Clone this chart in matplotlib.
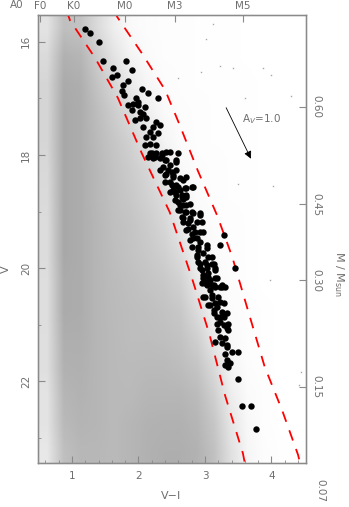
import numpy as np
import matplotlib
matplotlib.use("Agg")
import matplotlib.pyplot as plt
from matplotlib.colors import LinearSegmentedColormap
from matplotlib.transforms import blended_transform_factory

# cluster candidates (V-I, V)
vi_stars = [1.20, 1.27, 1.41, 1.47, 1.82, 1.62, 1.91, 1.67, 1.60, 1.85, 1.77, 1.75, 1.78, 2.06, 2.14, 2.30,
            1.97, 1.92, 1.85, 2.00, 2.10, 2.02, 1.90,
            2.00, 2.07, 1.95, 2.02, 2.12, 2.27, 2.32, 2.22, 2.07, 2.17, 2.12, 2.22, 2.30, 2.10, 2.17, 2.27,
            2.20, 2.15, 2.27, 2.35, 2.42, 2.47, 2.60, 2.22, 2.32, 2.40, 2.57, 2.37, 2.45, 2.50, 2.57, 2.40,
            2.52, 2.67, 2.47, 2.57, 2.62, 2.72, 2.52, 2.65, 2.80, 2.72,
            2.47, 2.57, 2.55, 2.67, 2.62, 2.72, 2.60, 2.70, 2.80, 2.92, 2.65, 2.77, 2.67, 2.75, 2.95, 2.82,
            2.72, 2.80, 2.92, 2.77, 2.88, 2.80, 2.90, 3.03, 2.97, 3.10, 2.88, 2.90, 3.00, 3.10, 2.92, 3.03,
            3.15, 2.97, 3.05, 3.15, 3.00, 3.10, 3.23, 3.28, 3.23, 3.45,
            2.95, 3.03, 3.13, 3.25, 2.97, 3.10, 3.08, 3.23, 3.05, 3.15, 3.13, 3.25, 3.18, 3.28, 3.23, 3.35,
            3.20, 3.33, 3.23, 3.30, 3.25, 3.33, 3.40, 3.50, 3.30, 3.33, 3.38, 3.30, 3.50,
            3.35, 3.56, 3.69, 3.76,
            2.17, 2.25, 2.35, 2.42, 2.57, 2.47, 2.32, 2.42, 2.52, 2.62, 2.72, 2.40, 2.50, 2.60, 2.70, 2.82,
            2.55, 2.65, 2.72, 2.60, 2.67, 2.77, 2.62, 2.72, 2.82, 2.92, 2.67, 2.77, 2.88, 2.75, 2.85, 2.97,
            3.03, 2.82, 2.92, 2.90, 3.05, 2.88, 2.92, 3.03, 3.13, 2.95, 3.05, 3.15, 2.97, 3.08, 3.18, 3.03,
            3.15, 3.25, 3.00, 3.10, 3.20, 3.30, 3.08, 3.18, 3.28, 3.13, 3.23, 3.33, 3.18, 3.28, 3.35, 3.15,
            3.33]
v_stars = [15.78, 15.85, 16.00, 16.34, 16.34, 16.47, 16.49, 16.58, 16.62, 16.69, 16.77, 16.87, 16.94, 16.84,
           16.91, 17.00, 16.99, 17.09, 17.12, 17.12, 17.15, 17.24, 17.21,
           17.06, 17.27, 17.38, 17.35, 17.35, 17.41, 17.47, 17.50, 17.50, 17.59, 17.68, 17.68, 17.62, 17.83,
           17.80, 17.83, 17.97, 18.03, 17.97, 17.97, 17.94, 17.94, 17.96, 18.06, 18.06, 18.09, 18.12, 18.21,
           18.27, 18.30, 18.27, 18.36, 18.39, 18.44, 18.47, 18.53, 18.62, 18.59, 18.62, 18.71, 18.57, 18.74,
           18.65, 18.71, 18.80, 18.77, 18.89, 18.89, 18.97, 19.00, 19.00, 19.06, 19.09, 19.12, 19.18, 19.21,
           19.18, 19.27, 19.33, 19.39, 19.36, 19.50, 19.47, 19.62, 19.62, 19.65, 19.74, 19.80, 19.77, 19.89,
           19.89, 19.92, 20.00, 20.00, 20.03, 20.12, 20.15, 20.18, 20.27, 20.30, 20.33, 19.42, 19.59, 20.00,
           20.27, 20.24, 20.30, 20.33, 20.51, 20.48, 20.39, 20.59, 20.65, 20.62, 20.74, 20.77, 20.86, 20.86,
           20.95, 20.98, 21.09, 21.06, 21.21, 21.24, 21.33, 21.36, 21.48, 21.48, 21.51, 21.62, 21.68, 21.71,
           21.95,
           21.74, 22.44, 22.44, 22.84,
           17.97, 18.03, 18.00, 18.09, 18.09, 18.18, 18.27, 18.33, 18.36, 18.41, 18.39, 18.47, 18.53, 18.56,
           18.59, 18.56, 18.65, 18.74, 18.71, 18.83, 18.89, 18.86, 18.97, 19.00, 19.03, 19.03, 19.12, 19.15,
           19.18, 19.30, 19.36, 19.36, 19.59, 19.47, 19.53, 19.68, 19.80, 19.80, 19.92, 19.95, 19.92, 20.03,
           20.09, 20.00, 20.18, 20.21, 20.18, 20.30, 20.33, 20.30, 20.51, 20.53, 20.51, 20.33, 20.65, 20.68,
           20.62, 20.80, 20.86, 20.80, 20.98, 21.01, 21.09, 21.30, 21.39]

# isochrone-like dashed lines
vi_line1 = [0.92, 0.97, 1.35, 1.69, 2.05, 2.47, 2.80, 3.07, 3.30, 3.57, 3.60]
v_line1 = [15.45, 15.62, 16.29, 16.99, 17.97, 19.01, 20.16, 21.18, 22.24, 23.27, 23.45]
vi_line2 = [1.64, 1.68, 2.05, 2.40, 2.62, 2.89, 3.18, 3.41, 3.68, 3.90, 4.16, 4.40, 4.43]
v_line2 = [15.45, 15.56, 16.20, 16.85, 17.47, 18.27, 19.06, 19.80, 20.88, 21.75, 22.51, 23.30, 23.45]

# field star density (rows: V 15.5 -> 23.5 step 0.5, cols: V-I 0.5 -> 4.5 step 0.25)
field_density = [
    [0.30, 0.70, 0.65, 0.40, 0.18, 0.06, 0.03, 0.02, 0.02, 0.01, 0.01, 0.01, 0.00, 0.00, 0.00, 0.00],
    [0.40, 0.85, 0.80, 0.55, 0.30, 0.12, 0.05, 0.02, 0.02, 0.01, 0.01, 0.01, 0.00, 0.00, 0.00, 0.00],
    [0.45, 0.92, 0.88, 0.65, 0.45, 0.22, 0.10, 0.04, 0.02, 0.01, 0.01, 0.01, 0.01, 0.00, 0.00, 0.00],
    [0.45, 0.95, 0.90, 0.72, 0.55, 0.38, 0.18, 0.06, 0.03, 0.02, 0.01, 0.01, 0.01, 0.00, 0.00, 0.00],
    [0.45, 0.95, 0.90, 0.75, 0.62, 0.50, 0.32, 0.12, 0.04, 0.02, 0.01, 0.01, 0.01, 0.00, 0.00, 0.00],
    [0.42, 0.95, 0.90, 0.78, 0.66, 0.56, 0.45, 0.25, 0.07, 0.03, 0.02, 0.01, 0.01, 0.00, 0.00, 0.00],
    [0.40, 0.95, 0.90, 0.78, 0.68, 0.60, 0.50, 0.38, 0.15, 0.04, 0.02, 0.01, 0.01, 0.00, 0.00, 0.00],
    [0.38, 0.95, 0.90, 0.80, 0.70, 0.65, 0.56, 0.45, 0.26, 0.09, 0.03, 0.02, 0.01, 0.00, 0.00, 0.00],
    [0.38, 0.95, 0.90, 0.80, 0.72, 0.66, 0.60, 0.52, 0.38, 0.15, 0.05, 0.02, 0.01, 0.00, 0.00, 0.00],
    [0.36, 0.92, 0.90, 0.80, 0.74, 0.70, 0.65, 0.60, 0.50, 0.25, 0.09, 0.03, 0.01, 0.00, 0.00, 0.00],
    [0.36, 0.92, 0.90, 0.80, 0.75, 0.72, 0.70, 0.66, 0.60, 0.38, 0.14, 0.04, 0.02, 0.01, 0.00, 0.00],
    [0.35, 0.88, 0.88, 0.80, 0.76, 0.72, 0.72, 0.70, 0.66, 0.52, 0.24, 0.07, 0.02, 0.01, 0.00, 0.00],
    [0.35, 0.85, 0.86, 0.80, 0.76, 0.75, 0.76, 0.76, 0.72, 0.64, 0.40, 0.12, 0.03, 0.01, 0.00, 0.00],
    [0.30, 0.80, 0.84, 0.80, 0.76, 0.76, 0.80, 0.80, 0.80, 0.74, 0.52, 0.20, 0.05, 0.02, 0.00, 0.00],
    [0.30, 0.76, 0.82, 0.80, 0.76, 0.80, 0.84, 0.85, 0.85, 0.80, 0.62, 0.28, 0.08, 0.02, 0.00, 0.00],
    [0.25, 0.70, 0.78, 0.78, 0.76, 0.80, 0.85, 0.88, 0.88, 0.84, 0.68, 0.34, 0.10, 0.03, 0.01, 0.00],
]

# a few isolated field stars
vi_field = [3.12, 3.02, 2.94, 3.23, 3.42, 3.87, 3.60, 4.29, 3.99, 3.50, 4.02, 3.98, 2.59, 4.44, 4.41]
v_field = [15.69, 15.95, 16.54, 16.43, 16.46, 16.46, 16.99, 16.96, 16.59, 18.51, 18.55, 20.21, 16.64,
           21.84, 22.07]

spec_types = ["F0", "K0", "M0", "M3", "M5"]
spec_vi = [0.52, 1.03, 1.80, 2.55, 3.57]
mass_labels = ["0.60", "0.45", "0.30", "0.15"]
mass_v = [17.15, 18.87, 20.21, 22.10]

gray_txt = "#6e6e6e"
frame = "#8a8a8a"

fig = plt.figure(figsize=(3.49, 5.07), dpi=100)
ax = fig.add_axes([0.109, 0.087, 0.768, 0.883])

cmap = LinearSegmentedColormap.from_list("field", ["#ffffff", "#a4a4a4"])
ax.imshow(np.array(field_density), extent=(0.5, 4.5, 23.5, 15.5), origin="upper",
          cmap=cmap, vmin=0, vmax=1, aspect="auto", interpolation="bilinear", zorder=1)
ax.plot(vi_field, v_field, "s", color="#a8a8a8", ms=1.0, mew=0, zorder=2)

ax.plot(vi_line1, v_line1, color="red", lw=1.3, ls=(0, (6, 5)), zorder=3)
ax.plot(vi_line2, v_line2, color="red", lw=1.3, ls=(0, (6, 5)), zorder=3)
ax.plot(vi_stars, v_stars, "o", color="black", ms=4.6, mew=0, zorder=4)

# reddening vector
ax.annotate("", xy=(3.71, 18.11), xytext=(3.30, 17.12),
            arrowprops=dict(arrowstyle="-|>", color="black", lw=0.6, mutation_scale=11))
ax.text(3.56, 17.36, "A$_V$=1.0", fontsize=7.5, color=gray_txt, va="center", ha="left")

ax.set_xlim(0.49, 4.52)
ax.set_ylim(23.44, 15.53)
ax.set_xticks([1, 2, 3, 4])
ax.set_xticks(np.arange(0.6, 4.52, 0.2), minor=True)
ax.set_yticks([16, 18, 20, 22])
ax.set_yticks([17, 19, 21, 23], minor=True)
ax.tick_params(which="both", direction="in", colors=frame, labelcolor=gray_txt, labelsize=7.5,
               top=False, right=False)
ax.tick_params(which="major", length=5)
ax.tick_params(which="minor", length=2.5)
ax.tick_params(axis="x", pad=6)
ax.tick_params(axis="y", pad=5)
for lab in ax.get_yticklabels():
    lab.set_rotation(90)
    lab.set_va("center")
for s in ax.spines.values():
    s.set_color(frame)
    s.set_linewidth(1.0)

# spectral types on top
axt = ax.twiny()
axt.set_xlim(ax.get_xlim())
axt.set_xticks(spec_vi)
axt.set_xticklabels(spec_types)
axt.tick_params(direction="in", length=5, colors=frame, labelcolor=gray_txt, labelsize=7.5, pad=3)
axt.text(0.17, 1.012, "A0", transform=blended_transform_factory(axt.transData, axt.transAxes),
         fontsize=7.5, color=gray_txt, ha="center", va="bottom", clip_on=False)

# masses on the right
axr = ax.twinx()
axr.set_ylim(ax.get_ylim())
axr.set_yticks(mass_v)
axr.set_yticklabels(mass_labels, rotation=-90, va="center")
axr.tick_params(direction="in", length=5, colors=frame, labelcolor=gray_txt, labelsize=7.5, pad=4)
axr.text(1.035, 23.92, "0.07", transform=blended_transform_factory(axr.transAxes, axr.transData),
         fontsize=7.5, color=gray_txt, ha="left", va="center", rotation=-90, clip_on=False)
for a in (axt, axr):
    for s in a.spines.values():
        s.set_color(frame)

fig.text(0.018, 0.47, "V", fontsize=8, color=gray_txt, rotation=90, ha="center", va="center")
fig.text(0.49, 0.012, "V\u2212I", fontsize=8, color=gray_txt, ha="center", va="bottom")
fig.text(0.972, 0.46, "M / M$_{\\rm sun}$", fontsize=8, color=gray_txt, rotation=-90,
         ha="center", va="center")

fig.savefig("out.png", dpi=100)
